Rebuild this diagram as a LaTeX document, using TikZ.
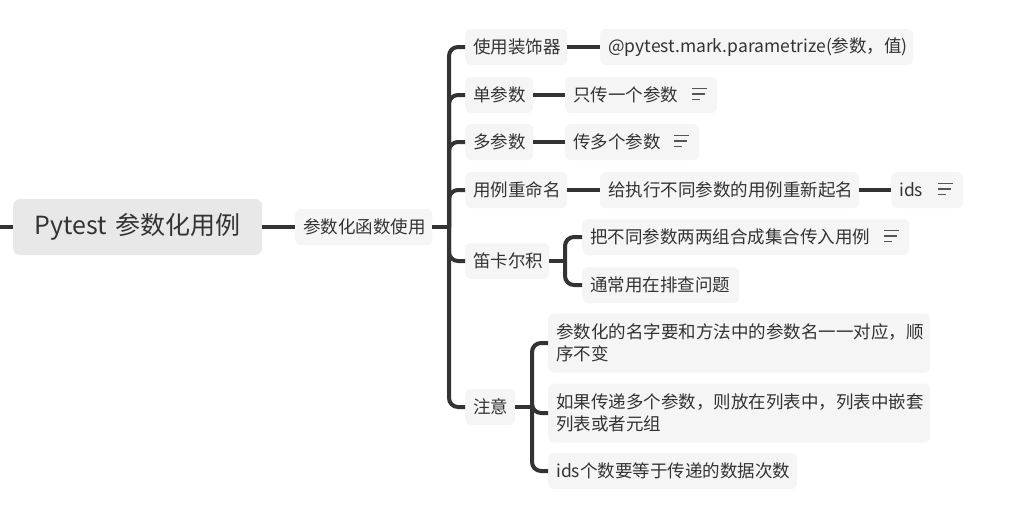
\documentclass[tikz,border=0pt]{standalone}
\usepackage{fontspec}
\setmainfont{Noto Sans CJK SC}
\definecolor{txt}{HTML}{333333}
\definecolor{conn}{HTML}{333333}
\definecolor{boxfill}{HTML}{F5F5F5}
\definecolor{rootfill}{HTML}{E8E8E8}
\definecolor{iconc}{HTML}{555555}
\tikzset{
  topic/.style={rectangle, rounded corners=6pt, fill=boxfill, text=txt,
    font=\fontsize{17.5}{22}\selectfont, inner xsep=8pt, inner ysep=0pt,
    minimum height=36pt, align=left, anchor=west},
  rootbox/.style={rectangle, rounded corners=7pt, fill=rootfill, text=txt,
    font=\fontsize{25}{30}\selectfont, inner xsep=8pt, inner ysep=0pt,
    minimum height=56pt, align=center, anchor=west},
  link/.style={draw=conn, line width=4pt},
  branch/.style={draw=conn, line width=4pt, rounded corners=9pt},
  iconline/.style={draw=iconc, line width=1.3pt}
}
\newcommand\noteicon[1]{%
  \draw[iconline] ([xshift=-25pt,yshift=6.5pt]#1.east) -- ++(15,0);
  \draw[iconline] ([xshift=-25pt,yshift=1pt]#1.east) -- ++(13,0);
  \draw[iconline] ([xshift=-25pt,yshift=-4.5pt]#1.east) -- ++(8,0);}
\begin{document}
\begin{tikzpicture}[x=1pt,y=-1pt]
\useasboundingbox[fill=white] (0,0) rectangle (1017,506);
% root and level 1
\node[rootbox, text width=233pt] (root) at (13,227) {Pytest 参数化用例};
\node[topic, text width=121pt] (l1) at (295,227) {参数化函数使用};
% level 2
\node[topic, text width=86pt] (c1) at (465,47) {使用装饰器};
\node[topic, text width=52pt] (c2) at (465,95) {单参数};
\node[topic, text width=52pt] (c3) at (465,142) {多参数};
\node[topic, text width=86pt] (c4) at (465,190) {用例重命名};
\node[topic, text width=68pt] (c5) at (465,261) {笛卡尔积};
\node[topic, text width=34pt] (c6) at (465,407) {注意};
% level 3
\node[topic, text width=297pt] (d1) at (600,47) {\mbox{@pytest.mark.parametrize(参数，值)}};
\node[topic, text width=136pt] (d2) at (565,95) {只传一个参数};
\node[topic, text width=118pt] (d3) at (565,142) {传多个参数};
\node[topic, text width=243pt] (d4) at (600,190) {给执行不同参数的用例重新起名};
\node[topic, text width=56pt] (e4) at (891,190) {ids};
\node[topic, text width=311pt] (d5a) at (582,237) {\mbox{把不同参数两两组合成集合传入用例}};
\node[topic, text width=141pt] (d5b) at (582,285) {通常用在排查问题};
\node[topic, text width=366pt, minimum height=59pt] (d6a) at (548,343) {\mbox{参数化的名字要和方法中的参数名一一对应，顺}\\序不变};
\node[topic, text width=366pt, minimum height=59pt] (d6b) at (548,413) {\mbox{如果传递多个参数，则放在列表中，列表中嵌套}\\列表或者元组};
\node[topic, text width=233pt] (d6c) at (548,471) {ids个数要等于传递的数据次数};
% icons
\noteicon{d2}
\noteicon{d3}
\noteicon{e4}
\noteicon{d5a}
% connectors
\coordinate (stub) at (0,227);
\coordinate (j1) at (449,227);
\coordinate (j5) at (565,261);
\coordinate (j6) at (532,407);
\draw[link] (stub) -- (root.west);
\draw[link] (root.east) -- (l1.west);
\draw[link] (l1.east) -- (j1);
\foreach \c in {c1,c2,c3,c4,c5,c6}{\draw[branch] (j1) |- (\c.west);}
\draw[link] (c1.east) -- (d1.west);
\draw[link] (c2.east) -- (d2.west);
\draw[link] (c3.east) -- (d3.west);
\draw[link] (c4.east) -- (d4.west);
\draw[link] (d4.east) -- (e4.west);
\draw[link] (c5.east) -- (j5);
\draw[branch] (j5) |- (d5a.west);
\draw[branch] (j5) |- (d5b.west);
\draw[link] (c6.east) -- (j6);
\draw[branch] (j6) |- (d6a.west);
\draw[branch] (j6) |- (d6b.west);
\draw[branch] (j6) |- (d6c.west);
\end{tikzpicture}
\end{document}
